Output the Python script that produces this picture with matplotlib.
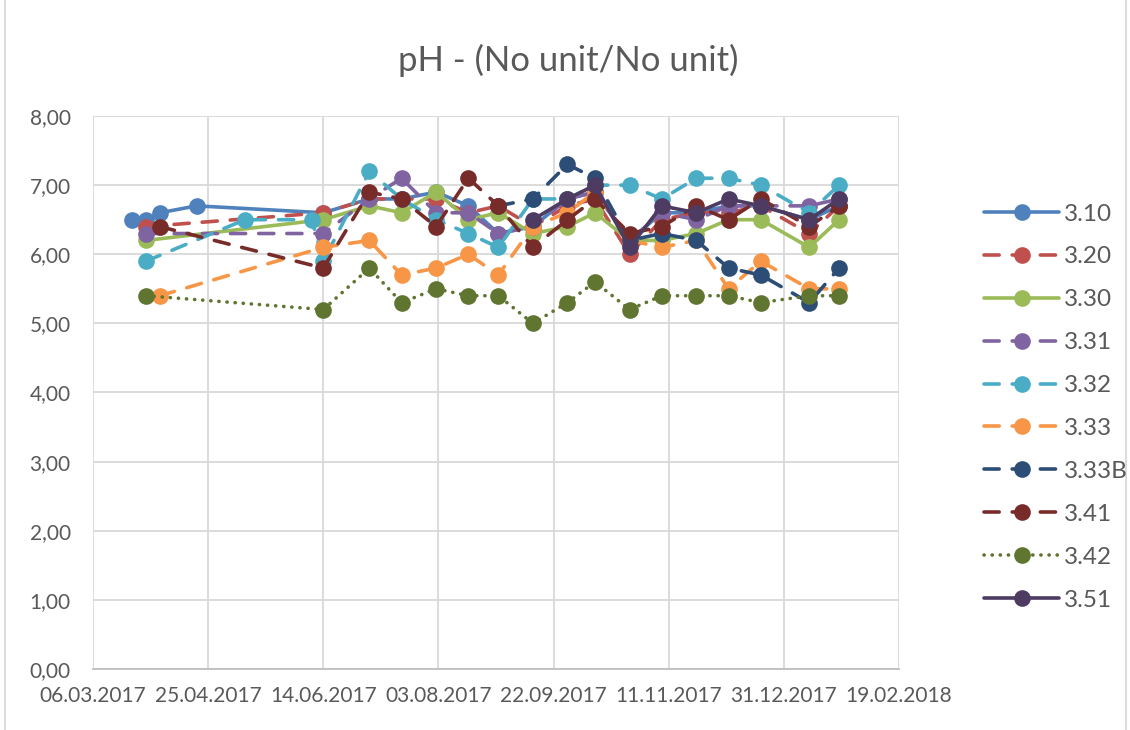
import numpy as np
import matplotlib
matplotlib.use("Agg")
import matplotlib.pyplot as plt
import matplotlib.dates as mdates
from matplotlib.patches import Rectangle
from datetime import datetime, timedelta

plt.rcParams['font.family'] = ['Lato', 'DejaVu Sans']

# sampling dates (dd.mm.yyyy)
dates = ["23.03.2017", "29.03.2017", "04.04.2017", "20.04.2017", "11.05.2017",
         "09.06.2017", "14.06.2017", "04.07.2017", "18.07.2017", "02.08.2017",
         "16.08.2017", "29.08.2017", "13.09.2017", "28.09.2017", "10.10.2017",
         "25.10.2017", "08.11.2017", "23.11.2017", "07.12.2017", "21.12.2017",
         "11.01.2018", "24.01.2018"]

N = None
s310 = [6.5, 6.5, 6.6, 6.7, N, N, 6.6, 6.8, 6.8, 6.9, 6.7, 6.3, 6.4, 6.8, 6.9, 6.2, 6.6, 6.6, 6.7, 6.7, 6.5, 6.7]
s320 = [N, 6.4, N, N, N, N, 6.6, 6.8, 6.8, 6.8, 6.6, 6.7, 6.4, 6.7, 6.8, 6.0, 6.5, 6.6, 6.6, 6.7, 6.3, 6.7]
s330 = [N, 6.2, N, N, N, N, 6.5, 6.7, 6.6, 6.9, 6.5, 6.6, 6.3, 6.4, 6.6, 6.2, 6.2, 6.3, 6.5, 6.5, 6.1, 6.5]
s331 = [N, 6.3, N, N, N, N, 6.3, 6.8, 7.1, 6.6, 6.6, 6.3, 6.4, 6.8, 6.9, 6.2, 6.6, 6.5, 6.7, 6.7, 6.7, 6.8]
s332 = [N, 5.9, N, N, 6.5, 6.5, 5.9, 7.2, 6.8, 6.5, 6.3, 6.1, 6.8, 6.8, 7.0, 7.0, 6.8, 7.1, 7.1, 7.0, 6.6, 7.0]
s333 = [N, N, 5.4, N, N, N, 6.1, 6.2, 5.7, 5.8, 6.0, 5.7, 6.4, 6.6, 6.9, 6.2, 6.1, 6.2, 5.5, 5.9, 5.5, 5.5]
s333b = [N, N, N, N, N, N, N, N, N, N, N, 6.7, 6.8, 7.3, 7.1, 6.2, 6.3, 6.2, 5.8, 5.7, 5.3, 5.8]
s341 = [N, N, 6.4, N, N, N, 5.8, 6.9, 6.8, 6.4, 7.1, 6.7, 6.1, 6.5, 6.8, 6.3, 6.4, 6.7, 6.5, 6.8, 6.4, 6.7]
s342 = [N, 5.4, N, N, N, N, 5.2, 5.8, 5.3, 5.5, 5.4, 5.4, 5.0, 5.3, 5.6, 5.2, 5.4, 5.4, 5.4, 5.3, 5.4, 5.4]
s351 = [N, N, N, N, N, N, N, N, N, N, N, N, 6.5, 6.8, 7.0, 6.1, 6.7, 6.6, 6.8, 6.7, 6.5, 6.8]

names = ["3.10", "3.20", "3.30", "3.31", "3.32", "3.33", "3.33B", "3.41", "3.42", "3.51"]
series = [s310, s320, s330, s331, s332, s333, s333b, s341, s342, s351]
colors = ["#4F81BD", "#C0504D", "#9BBB59", "#8064A2", "#4BACC6", "#F79646",
          "#2C4D75", "#772C2A", "#5F7530", "#4D3B62"]
dash = (0, (4.2, 3.6))
dot = (0, (0.05, 2.2))
styles = ["-", dash, "-", dash, dash, dash, dash, dash, dot, "-"]

x = [datetime.strptime(d, "%d.%m.%Y") for d in dates]

fig = plt.figure(figsize=(11.3, 7.3), dpi=100)
ax = fig.add_axes([93/1130, 61/730, 806/1130, 553/730])

for name, vals, c, ls in zip(names, series, colors, styles):
    xs = [xi for xi, v in zip(x, vals) if v is not None]
    ys = [v for v in vals if v is not None]
    ax.plot(xs, ys, color=c, linestyle=ls, lw=2.6, marker="o", ms=12,
            markeredgewidth=0, dash_capstyle="round", solid_capstyle="round",
            label=name)

start = datetime(2017, 3, 6)
ticks = [start + timedelta(days=50 * i) for i in range(8)]
ax.set_xlim(ticks[0], ticks[-1])
ax.set_xticks(ticks)
ax.xaxis.set_major_formatter(mdates.DateFormatter("%d.%m.%Y"))
ax.set_ylim(0, 8)
ax.set_yticks(np.arange(0, 9, 1))
ax.set_yticklabels([("%.2f" % v).replace(".", ",") for v in range(9)])

ax.grid(True, color="#D9D9D9", lw=1.3)
ax.set_axisbelow(True)
for s in ["top", "right", "left"]:
    ax.spines[s].set_visible(False)
ax.spines["bottom"].set_color("#BFBFBF")
ax.spines["bottom"].set_linewidth(1.3)
ax.tick_params(length=0, labelsize=15, colors="#595959")
ax.tick_params(axis="x", pad=12)
ax.tick_params(axis="y", pad=16)

fig.text(568/1130, 1 - 60/730, "pH - (No unit/No unit)", ha="center", va="center",
         fontsize=25, color="#595959")

leg = fig.legend(loc="center left", bbox_to_anchor=(962/1130, 1 - 407/730),
                 frameon=False, fontsize=17.5, handlelength=3.1, handletextpad=0.2,
                 labelspacing=0.9)
for t in leg.get_texts():
    t.set_color("#595959")

fig.patches.append(Rectangle((5/1130, -0.01), 1121/1130, 1.02, transform=fig.transFigure,
                             fill=False, edgecolor="#D9D9D9", lw=1.3))

fig.savefig("out.png", dpi=100)
